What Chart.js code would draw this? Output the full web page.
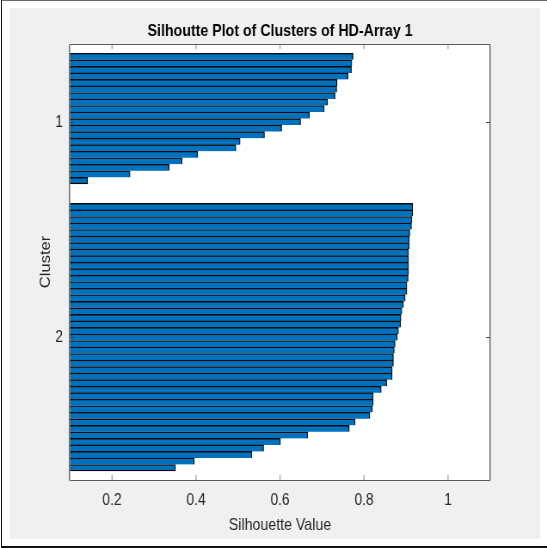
<!DOCTYPE html>
<html>
<head>
<meta charset="utf-8">
<script src="https://cdn.jsdelivr.net/npm/chart.js@4"></script>
<style>
  html, body { margin: 0; padding: 0; background: #ffffff; overflow: hidden; }
  #frame {
    position: absolute; left: 1px; top: 0; width: 560px; height: 545px;
    border-left: 1px solid #1a1a1a; border-top: 1px solid #6a6a6a; border-bottom: 2px solid #111;
  }
  #panel {
    position: absolute; left: 10px; top: 8px; width: 530px; height: 531px;
    background: #f0f0f0;
  }
  /* the figure is laid out on a wider canvas and narrowed to the window width */
  #chart { position: absolute; left: 0; top: 0; transform-origin: 0 0; }
</style>
</head>
<body>
<div id="frame"></div>
<div id="panel"></div>
<canvas id="chart" width="636" height="548"></canvas>
<script>
// Silhouette values per cluster, sorted high to low
const cluster1Values = [0.774, 0.771, 0.770, 0.762, 0.736, 0.735, 0.731, 0.713, 0.705, 0.670,
                        0.649, 0.604, 0.563, 0.505, 0.495, 0.404, 0.367, 0.336, 0.243, 0.142];
const cluster2Values = [0.916, 0.916, 0.914, 0.913, 0.909, 0.908, 0.908, 0.906, 0.906, 0.906,
                        0.906, 0.905, 0.902, 0.902, 0.898, 0.894, 0.890, 0.888, 0.887, 0.882,
                        0.879, 0.874, 0.872, 0.870, 0.870, 0.867, 0.867, 0.854, 0.841, 0.822,
                        0.822, 0.820, 0.814, 0.779, 0.765, 0.666, 0.601, 0.561, 0.533, 0.396,
                        0.351];
const clusterLabels = ['1', '2'];
const clusterTickPositions = [11.1, 44];
const xTickValues = [0.2, 0.4, 0.6, 0.8, 1];

const clusterGap = 3;           // empty rows between clusters
const SX = 0.86;                // horizontal squeeze of the figure
const W = 547 / SX;             // canvas width before the squeeze
const hx = px => px / SX;       // window px -> canvas px (horizontal)
const FONT = "'Liberation Sans', Arial, Helvetica, sans-serif";
const BAR_FILL = '#0072bd';
const BAR_EDGE = '#0a0a0a';

const canvas = document.getElementById('chart');
canvas.width = Math.round(W);
canvas.style.transform = 'scaleX(' + (547 / canvas.width) + ')';

const rows1 = cluster1Values.map((v, i) => ({ x: v, y: i + 1 }));
const rows2 = cluster2Values.map((v, i) => ({ x: v, y: cluster1Values.length + clusterGap + i + 1 }));

function edgeWidth(count) {
  return ctx => ({ top: 1.4, right: hx(1.1), left: 0, bottom: ctx.dataIndex === count - 1 ? 1.4 : 0 });
}

// White axes background, box outline and inward tick marks
const axesBox = {
  id: 'axesBox',
  beforeDraw(chart) {
    const { ctx, chartArea: a } = chart;
    ctx.save();
    ctx.fillStyle = '#ffffff';
    ctx.fillRect(a.left, a.top, a.right - a.left, a.bottom - a.top);
    ctx.restore();
  },
  afterDraw(chart) {
    const { ctx, chartArea: a, scales } = chart;
    ctx.save();
    // x ticks on bottom and top edges
    ctx.lineWidth = hx(1);
    ctx.strokeStyle = '#9a9a9a';
    ctx.beginPath();
    xTickValues.forEach(v => {
      const px = scales.x.getPixelForValue(v);
      ctx.moveTo(px, a.top); ctx.lineTo(px, a.top + 5);
      ctx.moveTo(px, a.bottom); ctx.lineTo(px, a.bottom - 5);
    });
    ctx.stroke();
    // cluster ticks on left and right edges
    ctx.lineWidth = 1;
    ctx.strokeStyle = '#404040';
    ctx.beginPath();
    clusterTickPositions.forEach(v => {
      const py = Math.round(scales.y.getPixelForValue(v)) + 0.5;
      ctx.moveTo(a.left, py); ctx.lineTo(a.left + hx(4), py);
      ctx.moveTo(a.right, py); ctx.lineTo(a.right - hx(4), py);
    });
    ctx.stroke();
    // axes box
    ctx.strokeStyle = '#5a5a5a';
    ctx.lineWidth = 1;
    ctx.beginPath();
    const top = Math.round(a.top) + 0.5, bottom = Math.round(a.bottom) + 0.5;
    ctx.moveTo(a.left, top); ctx.lineTo(a.right, top);
    ctx.moveTo(a.left, bottom); ctx.lineTo(a.right, bottom);
    ctx.stroke();
    ctx.lineWidth = hx(1.1);
    ctx.beginPath();
    ctx.moveTo(a.left - hx(0.5), top); ctx.lineTo(a.left - hx(0.5), bottom);
    ctx.moveTo(a.right, top); ctx.lineTo(a.right, bottom);
    ctx.stroke();
    ctx.restore();
  }
};

new Chart(canvas, {
  type: 'bar',
  data: {
    datasets: [
      { label: 'Cluster 1', data: rows1, backgroundColor: BAR_FILL, borderColor: BAR_EDGE,
        borderWidth: edgeWidth(rows1.length), borderSkipped: false, grouped: false,
        barPercentage: 1, categoryPercentage: 1 },
      { label: 'Cluster 2', data: rows2, backgroundColor: BAR_FILL, borderColor: BAR_EDGE,
        borderWidth: edgeWidth(rows2.length), borderSkipped: false, grouped: false,
        barPercentage: 1, categoryPercentage: 1 }
    ]
  },
  options: {
    indexAxis: 'y',
    responsive: false,
    animation: false,
    devicePixelRatio: 1,
    layout: { padding: { left: 0, right: canvas.width - hx(490), top: 0, bottom: 0 } },
    plugins: {
      legend: { display: false },
      tooltip: { enabled: false },
      title: {
        display: true,
        text: 'Silhoutte Plot of Clusters of HD-Array 1',
        fullSize: false,
        color: '#000000',
        font: { family: FONT, size: 16.5, weight: 'bold', lineHeight: 1.2 },
        padding: { top: 21.7, bottom: 2.5 }
      }
    },
    scales: {
      x: {
        type: 'linear',
        position: 'bottom',
        min: 0.1,
        max: 1.1,
        grid: { display: false, drawTicks: false },
        border: { display: false },
        afterBuildTicks: s => { s.ticks = xTickValues.map(v => ({ value: v })); },
        afterFit: s => { s.height = 68; },
        ticks: {
          padding: 11,
          color: '#262626',
          font: { family: FONT, size: 16, lineHeight: 1.2 },
          callback: v => String(v)
        },
        title: {
          display: true,
          text: 'Silhouette Value',
          color: '#262626',
          font: { family: FONT, size: 16.5, lineHeight: 1.2 },
          padding: { top: 0, bottom: 13.1 }
        }
      },
      y: {
        type: 'linear',
        position: 'left',
        reverse: true,
        offset: false,
        min: -0.925,
        max: 65.875,
        grid: { display: false, drawTicks: false, offset: false },
        border: { display: false },
        afterBuildTicks: s => { s.ticks = clusterTickPositions.map(v => ({ value: v })); },
        afterFit: s => { s.width = hx(70); },
        ticks: {
          padding: hx(7),
          color: '#262626',
          font: { family: FONT, size: 16, lineHeight: 1.2 },
          callback: (v, i) => clusterLabels[i]
        },
        title: {
          display: true,
          text: 'Cluster',
          color: '#262626',
          font: { family: FONT, size: 16.5, lineHeight: 1.2 },
          padding: { top: hx(46) - 9.9, bottom: 0 }
        }
      }
    }
  },
  plugins: [axesBox]
});
</script>
</body>
</html>
